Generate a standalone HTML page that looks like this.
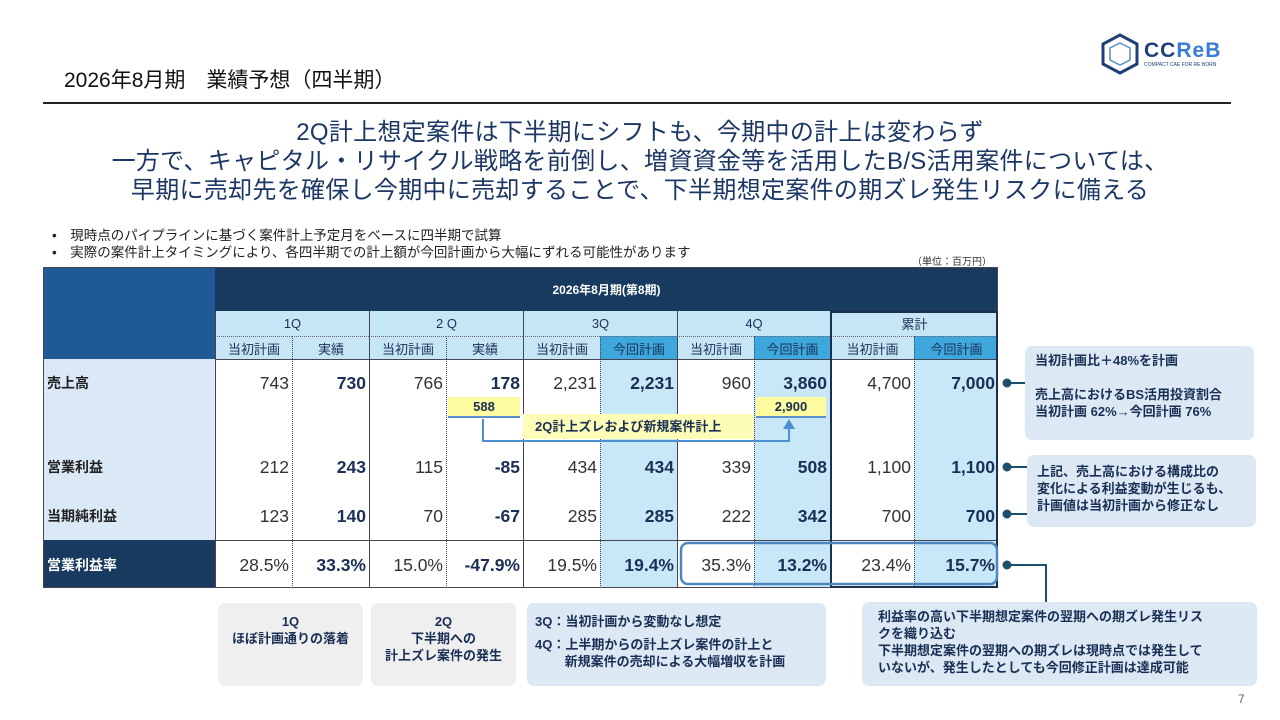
<!DOCTYPE html>
<html><head><meta charset="utf-8">
<style>
*{margin:0;padding:0;box-sizing:border-box}
body{width:1280px;height:720px;background:#fff;position:relative;overflow:hidden;font-family:"Liberation Sans","Noto Sans CJK JP",sans-serif;color:#222}
.a{position:absolute}
.c{position:absolute;display:flex;align-items:center;justify-content:center;font-size:13px}
.v{position:absolute;text-align:right;font-size:17.5px;padding-right:3px;line-height:20px}
.head{font-size:24px;color:#1c3764;text-align:center;line-height:29px;letter-spacing:0.3px}
.box{position:absolute;border-radius:7px;font-size:13px;font-weight:bold;color:#1a2f55}
</style></head><body>
<div class="a" style="left:64px;top:64px;font-size:21px;color:#111">2026年8月期　業績予想（四半期）</div>
<div class="a" style="left:43px;top:102px;width:1188px;height:2px;background:#222"></div>
<div class="a" style="left:1100px;top:33px;width:135px;height:42px">
<svg width="40" height="42" viewBox="0 0 40 42"><polygon points="20,2 37,11 37,31 20,40 3,31 3,11" fill="none" stroke="#1f3f7a" stroke-width="3"/><polygon points="20,10 30,15 30,27 20,32 10,27 10,15" fill="none" stroke="#5a8fcf" stroke-width="1.5"/></svg>
<div class="a" style="left:44px;top:6px;font-size:21px;font-weight:bold;color:#1f3f7a;letter-spacing:1px">CC<span style="color:#3a7bd5">ReB</span></div>
<div class="a" style="left:44px;top:29px;font-size:5px;color:#1f3f7a;white-space:nowrap">COMPACT CAE FOR RE BORN</div>
</div>
<div class="a head" style="left:0;top:118px;width:1280px">2Q計上想定案件は下半期にシフトも、今期中の計上は変わらず<br>一方で、キャピタル・リサイクル戦略を前倒し、増資資金等を活用したB/S活用案件については、<br>早期に売却先を確保し今期中に売却することで、下半期想定案件の期ズレ発生リスクに備える</div>
<div class="a" style="left:52px;top:227px;font-size:13.5px;line-height:17px;color:#222">•　現時点のパイプラインに基づく案件計上予定月をベースに四半期で試算<br>•　実際の案件計上タイミングにより、各四半期での計上額が今回計画から大幅にずれる可能性があります</div>
<div class="a" style="left:912px;top:253px;font-size:10px;color:#333">（単位：百万円）</div>
<div id="tbl"></div>
<script>
const cols=[215,292,369,446,523,600,677,754,830,914,998];
const quarters=["1Q","2 Q","3Q","4Q","累計"];
const subs=["当初計画","実績","当初計画","実績","当初計画","今回計画","当初計画","今回計画","当初計画","今回計画"];
const curCols=[5,7,9];
const rowLabels=["売上高","営業利益","当期純利益"];
const rowY=[383,467,516];
const sales=["743","730","766","178","2,231","2,231","960","3,860","4,700","7,000"];
const opProfit=["212","243","115","-85","434","434","339","508","1,100","1,100"];
const netProfit=["123","140","70","-67","285","285","222","342","700","700"];
const margin=["28.5%","33.3%","15.0%","-47.9%","19.5%","19.4%","35.3%","13.2%","23.4%","15.7%"];
const T=document.getElementById('tbl');
function d(cls,st,txt,name){const e=document.createElement('div');e.className=cls;e.style.cssText=st;if(txt!==undefined)e.innerHTML=txt;


T.appendChild(e);return e;}
d('a','left:43px;top:267px;width:172px;height:92px;background:#1f5a96','', 'corner-cell');
d('a','left:43px;top:359px;width:172px;height:181px;background:#dbe9f6','', 'label-column');
d('a','left:43px;top:540px;width:172px;height:48px;background:#173a5e','', 'margin-label-cell');
d('c','left:215px;top:267px;width:783px;height:44px;background:#173a5e;color:#fff;font-weight:bold;font-size:12px','2026年8月期(第8期)','period-header');
for(let q=0;q<5;q++){d('c',`left:${cols[q*2]}px;top:311px;width:${cols[q*2+2]-cols[q*2]}px;height:25px;background:#c7e6f5;border-left:1px solid #445;color:#1a2f55`,quarters[q],'quarter-header');}
for(let i=0;i<10;i++){const cur=curCols.includes(i);
d('c',`left:${cols[i]}px;top:336px;width:${cols[i+1]-cols[i]}px;height:23px;background:${cur?'#3ea8dd':'#c7e6f5'};border-top:1px dotted #667;border-left:1px ${i%2?'dotted':'solid'} #445;color:#1a2f55`,subs[i],'sub-header');
d('a',`left:${cols[i]}px;top:359px;width:${cols[i+1]-cols[i]}px;height:229px;background:${cur?'#c9e8f7':'#fff'};border-left:1px ${i%2?'dotted':'solid'} #445;border-top:1px solid #445`,'','data-column');}
d('a','left:215px;top:540px;width:783px;height:1px;background:#445','','margin-rule');
d('a','left:43px;top:267px;width:955px;height:321px;border:1px solid #445','','table-border');
d('a','left:830px;top:311px;width:168px;height:277px;border:2px solid #1d2f4f','','total-border');
const all=[sales,opProfit,netProfit];
rowLabels.forEach((l,r)=>{d('a',`left:47px;top:${rowY[r]-10}px;font-size:14px;font-weight:bold`,l,'row-label');
all[r].forEach((v,i)=>{const b=i%2==1;d('v',`left:${cols[i]}px;top:${rowY[r]-10}px;width:${cols[i+1]-cols[i]}px;${b?'color:#1a2f55;font-weight:bold':'color:#333'}`,v,'value-cell');});});
d('a','left:47px;top:555px;font-size:14px;font-weight:bold;color:#fff','営業利益率','margin-label');
margin.forEach((v,i)=>{const b=i%2==1;d('v',`left:${cols[i]}px;top:555px;width:${cols[i+1]-cols[i]}px;${b?'color:#1a2f55;font-weight:bold':'color:#333'}`,v,'margin-cell');});
</script>
<div class="a" style="left:448px;top:397px;width:72px;height:21px;background:#fdfba0;border-bottom:2px solid #5b8fc9;font-size:13px;font-weight:bold;text-align:center;line-height:20px;color:#1a2f55">588</div>
<div class="a" style="left:756px;top:397px;width:70px;height:21px;background:#fdfba0;border-bottom:2px solid #5b8fc9;font-size:13px;font-weight:bold;text-align:center;line-height:20px;color:#1a2f55">2,900</div>
<div class="a" style="left:523px;top:414px;width:231px;height:25px;background:#fdfdb8;font-size:13px;font-weight:bold;line-height:25px;padding-left:12px;color:#1a2f55">2Q計上ズレおよび新規案件計上</div>
<svg class="a" style="left:0;top:0" width="1280" height="720"><polyline points="483,419 483,441 789,441 789,428" fill="none" stroke="#4d8fd1" stroke-width="2"/><polygon points="783,429 795,429 789,419" fill="#4d8fd1"/>
<rect x="681" y="543" width="316" height="41" rx="7" fill="none" stroke="#4d86bf" stroke-width="2.5"/>
<g fill="#1c4f6e" stroke="#1c4f6e" stroke-width="2"><circle cx="1007" cy="383" r="3.5"/><line x1="1007" y1="383" x2="1025" y2="383"/><circle cx="1007" cy="467" r="3.5"/><line x1="1007" y1="467" x2="1027" y2="467"/><circle cx="1007" cy="514" r="3.5"/><line x1="1007" y1="514" x2="1027" y2="514"/><circle cx="1007" cy="565" r="3.5"/><polyline fill="none" points="1007,565 1046,565 1046,602"/></g></svg>
<div class="box" style="left:1025px;top:346px;width:229px;height:94px;background:#dce9f5;padding:6px 10px;line-height:17px">当初計画比＋48%を計画<br><br>売上高におけるBS活用投資割合<br>当初計画 62%→今回計画 76%</div>
<div class="box" style="left:1027px;top:455px;width:229px;height:72px;background:#dce9f5;padding:8px 10px;line-height:17px">上記、売上高における構成比の<br>変化による利益変動が生じるも、<br>計画値は当初計画から修正なし</div>
<div class="box" style="left:862px;top:602px;width:395px;height:84px;background:#dce9f5;padding:6px 16px;line-height:17px">利益率の高い下半期想定案件の翌期への期ズレ発生リス<br>クを織り込む<br>下半期想定案件の翌期への期ズレは現時点では発生して<br>いないが、発生したとしても今回修正計画は達成可能</div>
<div class="box" style="left:218px;top:603px;width:145px;height:83px;background:#efefef;text-align:center;padding-top:10px;line-height:17px">1Q<br>ほぼ計画通りの落着</div>
<div class="box" style="left:371px;top:603px;width:145px;height:83px;background:#efefef;text-align:center;padding-top:10px;line-height:17px">2Q<br>下半期への<br>計上ズレ案件の発生</div>
<div class="box" style="left:527px;top:603px;width:299px;height:83px;background:#dce9f5;padding:10px 8px;line-height:17px">3Q：当初計画から変動なし想定<br><div style="height:6px"></div>4Q：上半期からの計上ズレ案件の計上と<br>　　 新規案件の売却による大幅増収を計画</div>
<div class="a" style="left:1238px;top:692px;font-size:12px;color:#666">7</div>
</body></html>
